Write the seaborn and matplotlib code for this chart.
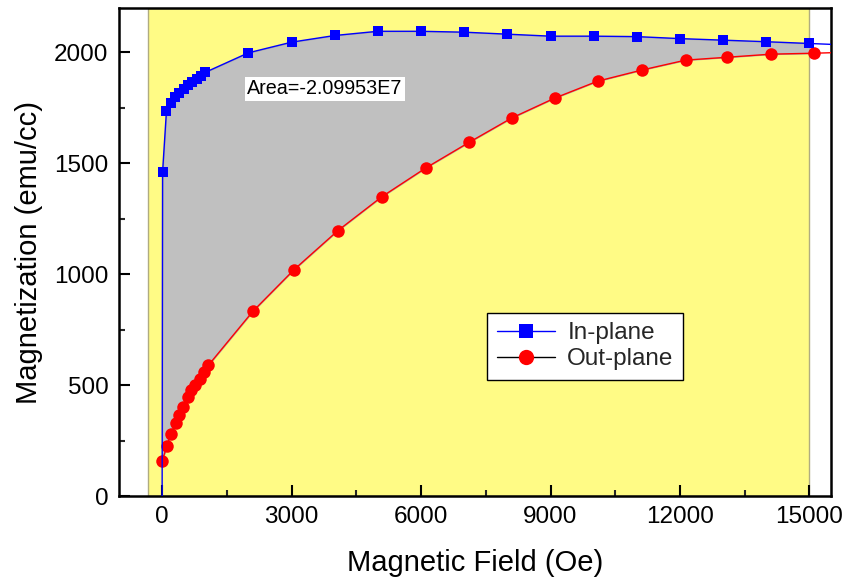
import numpy as np
import pandas as pd
import matplotlib
matplotlib.use("Agg")
import matplotlib.pyplot as plt
from matplotlib.lines import Line2D
from matplotlib.ticker import MultipleLocator
import seaborn as sns

# ---- data ----
in_field = [0, 10, 100, 200, 300, 400, 500, 600, 700, 800, 900, 1000,
            2000, 3000, 4000, 5000, 6000, 7000, 8000, 9000, 10000,
            11000, 12000, 13000, 14000, 15000, 16000]
in_mag = [0, 1461, 1736, 1772, 1797, 1818, 1836, 1852, 1867, 1881, 1894, 1910,
          1998, 2046, 2076, 2095, 2095, 2091, 2082, 2073, 2073,
          2071, 2062, 2055, 2048, 2040, 2032]

out_field = [0, 110, 200, 310, 400, 490, 590, 680, 770, 880, 980, 1070,
             2100, 3060, 4070, 5090, 6110, 7110, 8100, 9100, 10090,
             11110, 12130, 13100, 14120, 15110, 16100]
out_mag = [157, 226, 279, 327, 364, 402, 446, 477, 499, 526, 559, 589,
           832, 1021, 1196, 1349, 1479, 1594, 1704, 1794, 1870,
           1920, 1965, 1978, 1992, 1996, 2002]

area_text = "Area=-2.09953E7"
x_ticks = [0, 3000, 6000, 9000, 12000, 15000]
y_ticks = [0, 500, 1000, 1500, 2000]

sns.set_theme(style="ticks")
plt.rcParams['font.family'] = ['Liberation Sans', 'DejaVu Sans']

fig = plt.figure(figsize=(8.48, 5.83), dpi=100)
ax = fig.add_axes([0.1403, 0.1492, 0.8397, 0.8371])

# yellow background region
ax.axvspan(-330, 15000, facecolor='#fffb85', edgecolor='#b0ac80', lw=1.0, zorder=0)

# gray area between curves
grid = np.union1d(in_field, out_field)
grid = grid[(grid >= 0) & (grid <= 15000)]
gi = np.interp(grid, in_field, in_mag)
go = np.interp(grid, out_field, out_mag)
ax.fill_between(grid, go, gi, where=gi >= go, interpolate=True,
                facecolor='#c0c0c0', edgecolor='#a8a8a8', lw=0.8, zorder=1)

df_in = pd.DataFrame({"field": in_field, "mag": in_mag})
df_out = pd.DataFrame({"field": out_field, "mag": out_mag})

sns.lineplot(data=df_in, x="field", y="mag", ax=ax, color='#0000ff', lw=1.0,
             marker='s', markersize=7.5, markeredgewidth=0, sort=False,
             estimator=None, markevery=list(range(1, len(in_field))), zorder=4)
sns.lineplot(data=df_out, x="field", y="mag", ax=ax, color='#ff0000', lw=1.0,
             marker='o', markersize=9, markeredgewidth=0, sort=False,
             estimator=None, zorder=3)

ax.set_xlim(-1000, 15500)
ax.set_ylim(0, 2200)
ax.set_xticks(x_ticks)
ax.set_yticks(y_ticks)
ax.xaxis.set_minor_locator(MultipleLocator(1500))
ax.yaxis.set_minor_locator(MultipleLocator(250))
ax.tick_params(axis='both', which='major', direction='in', length=8, width=1.5,
               labelsize=17.5, color='black', labelcolor='black',
               top=False, right=False)
ax.tick_params(axis='x', which='major', pad=7.5)
ax.tick_params(axis='y', which='major', pad=7.5)
ax.tick_params(axis='both', which='minor', direction='in', length=4.5, width=1.5,
               top=False, right=False)
for s in ax.spines.values():
    s.set_linewidth(1.8)
    s.set_color('black')

ax.set_xlabel("Magnetic Field (Oe)", fontsize=21, labelpad=15, color='black')
ax.set_ylabel("Magnetization (emu/cc)", fontsize=21, labelpad=8, color='black')

ax.text(1970, 1835, area_text, fontsize=14.2, color='black', va='center',
        ha='left', bbox=dict(facecolor='white', edgecolor='none', pad=1.5), zorder=5)

handles = [
    Line2D([], [], color='#0000ff', lw=1.0, marker='s', markersize=10,
           markeredgewidth=0, label='In-plane'),
    Line2D([], [], color='black', lw=1.0, marker='o', markersize=11,
           markeredgewidth=0, markerfacecolor='#ff0000', label='Out-plane'),
]
leg = ax.legend(handles=handles, loc='upper left', bbox_to_anchor=(0.517, 0.3756),
                fontsize=17.5, frameon=True, fancybox=False, framealpha=1,
                edgecolor='black', handlelength=2.4, handletextpad=0.5,
                borderpad=0.4, labelspacing=0.15, borderaxespad=0)
leg.get_frame().set_linewidth(1.0)
leg.set_zorder(6)

fig.savefig("out.png", dpi=100)
